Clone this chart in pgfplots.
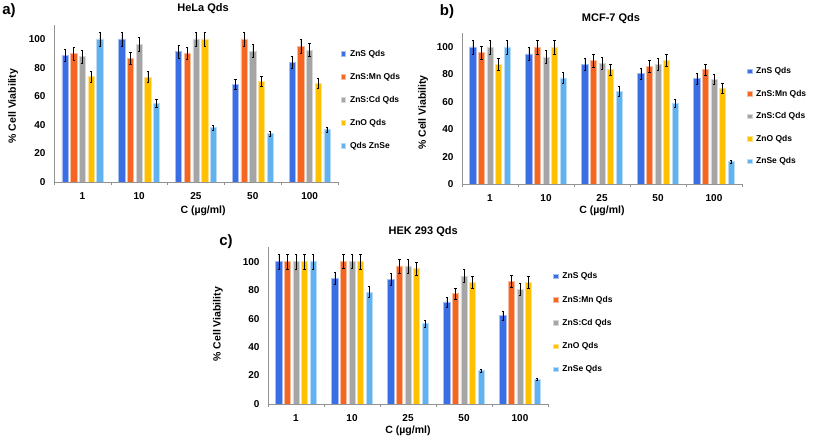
\documentclass[border=0pt]{standalone}
\usepackage{pgfplots}
\pgfplotsset{compat=1.18}
\usepackage{pgfplotstable}
\usepackage{fontspec}
\setmainfont{Liberation Sans}
\definecolor{cZnS}{RGB}{58,110,228}
\definecolor{cMn}{RGB}{245,102,34}
\definecolor{cCd}{RGB}{165,165,165}
\definecolor{cZnO}{RGB}{255,192,0}
\definecolor{cSe}{RGB}{99,178,240}

\pgfplotstableread{
x zns znsE mn mnE cd cdE zno znoE znse znseE
0 88.6 4.4 89.7 4.5 87.6 4.4 73.7 3.7 100 5.0
1 100 5.0 86.7 4.3 96.3 4.8 73.4 3.7 55.2 2.8
2 91.1 4.6 90.0 4.5 100 5.0 100 5.0 38.0 1.9
3 68.3 3.4 100 5.0 91.6 4.6 70.6 3.5 34.0 1.7
4 83.7 4.2 95.1 4.8 92.3 4.6 69.0 3.5 36.8 1.8
}\hela
\pgfplotstableread{
x zns znsE mn mnE cd cdE zno znoE znse znseE
0 100 5.0 96.1 4.8 100 5.0 87.3 4.4 100 5.0
1 94.9 4.7 100 5.0 92.7 4.6 100 5.0 77.4 3.9
2 87.1 4.4 90.0 4.5 88.3 4.4 83.5 4.2 67.6 3.4
3 80.5 4.0 85.9 4.3 87.3 4.4 90.3 4.5 59.1 3.0
4 76.9 3.8 83.5 4.2 76.6 3.8 70.0 3.5 16.3 0.8
}\mcf
\pgfplotstableread{
x zns znsE mn mnE cd cdE zno znoE znse znseE
0 100 5.0 100 5.0 100 5.0 100 5.0 100 5.0
1 88.3 4.4 100.5 5.0 100.5 5.0 100 5.0 78.7 3.9
2 87.6 4.4 97.0 4.9 97.0 4.9 95.1 4.8 56.4 2.8
3 71.7 3.6 77.5 3.9 89.9 4.5 85.5 4.3 23.4 1.2
4 62.1 3.1 86.2 4.3 80.6 4.0 85.5 4.3 17.3 0.9
}\hek

\pgfplotsset{
  every axis title shift=0pt,
  panel/.style={
    scale only axis, ybar, bar width=0.11,
    ymin=0, ymax=110, xmin=-0.5, xmax=4.5,
    axis x line*=bottom, axis y line*=left, tick pos=left,
    axis line style={draw=gray!85, line width=0.6pt},
    ytick={0,20,...,100}, xtick={0,...,4}, xticklabels={1,10,25,50,100},
    major tick length=0pt,
    extra x ticks={-0.5,0.5,...,4.5}, extra x tick labels={},
    extra x tick style={major tick length=3pt, tick align=outside, tick style={draw=gray!85, line width=0.5pt}},
    /pgf/number format/assume math mode=true,
    ticklabel style={font=\bfseries\fontsize{10}{10}\selectfont},
    yticklabel style={xshift=-5pt},
    xticklabel style={yshift=-7pt},
    label style={font=\bfseries\fontsize{10.5}{10.5}\selectfont},
    title style={font=\bfseries\fontsize{11}{11}\selectfont, anchor=center},
    xlabel={C (µg/ml)}, ylabel={\% Cell Viability},
    legend image code/.code={\fill[##1] (0pt,-2.3pt) rectangle (4.6pt,2.3pt);},
    legend cell align=left,
    legend style={draw=none, fill=none, inner sep=0pt, anchor=north west, column sep=3pt,
      nodes={inner sep=1pt, text height=7pt, text depth=2pt, font=\bfseries\fontsize{8.5}{8.5}\selectfont}},
  },
  eb/.style={error bars/.cd, y dir=both, y explicit,
    error bar style={black, line width=0.5pt},
    error mark options={rotate=90, black, mark size=1.1pt, line width=0.5pt}},
  s1/.style={fill=cZnS, draw=cZnS!45!white, line width=0.6pt, bar shift=-0.306},
  s2/.style={fill=cMn, draw=cMn!45!white, line width=0.6pt, bar shift=-0.153},
  s3/.style={fill=cCd, draw=cCd!45!white, line width=0.6pt, bar shift=0},
  s4/.style={fill=cZnO, draw=cZnO!45!white, line width=0.6pt, bar shift=0.153},
  s5/.style={fill=cSe, draw=cSe!45!white, line width=0.6pt, bar shift=0.306},
}

\begin{document}
\begin{tikzpicture}
\path[use as bounding box] (0pt,0pt) rectangle (817pt,441pt);

% a) HeLa
\begin{axis}[panel, at={(54pt,259pt)}, anchor=south west, width=284pt, height=157.3pt,
  title={HeLa Qds}, title style={at={(0.525,1.10)}},
  xlabel style={at={(axis description cs:0.525,-0.184)}, anchor=center},
  ylabel style={at={(axis description cs:-0.144,0.483)}, anchor=center},
  legend style={at={(1.0095,0.851)}, row sep=12pt}]
\addplot[s1, eb] table[x=x, y=zns, y error=znsE]{\hela};
\addplot[s2, eb] table[x=x, y=mn, y error=mnE]{\hela};
\addplot[s3, eb] table[x=x, y=cd, y error=cdE]{\hela};
\addplot[s4, eb] table[x=x, y=zno, y error=znoE]{\hela};
\addplot[s5, eb] table[x=x, y=znse, y error=znseE]{\hela};
\legend{ZnS Qds, ZnS:Mn Qds, ZnS:Cd Qds, ZnO Qds, Qds ZnSe}
\end{axis}

% b) MCF-7
\begin{axis}[panel, at={(462pt,257pt)}, anchor=south west, width=280pt, height=150.7pt,
  title={MCF-7 Qds}, title style={at={(0.532,1.10)}},
  xlabel style={at={(axis description cs:0.5,-0.177)}, anchor=center},
  ylabel style={at={(axis description cs:-0.139,0.474)}, anchor=center},
  legend style={at={(1.017,0.786)}, row sep=11.5pt}]
\addplot[s1, eb] table[x=x, y=zns, y error=znsE]{\mcf};
\addplot[s2, eb] table[x=x, y=mn, y error=mnE]{\mcf};
\addplot[s3, eb] table[x=x, y=cd, y error=cdE]{\mcf};
\addplot[s4, eb] table[x=x, y=zno, y error=znoE]{\mcf};
\addplot[s5, eb] table[x=x, y=znse, y error=znseE]{\mcf};
\legend{ZnS Qds, ZnS:Mn Qds, ZnS:Cd Qds, ZnO Qds, ZnSe Qds}
\end{axis}

% c) HEK 293
\begin{axis}[panel, at={(268pt,37pt)}, anchor=south west, width=280pt, height=156.5pt,
  title={HEK 293 Qds}, title style={at={(0.554,1.099)}},
  xlabel style={at={(axis description cs:0.5,-0.171)}, anchor=center},
  ylabel style={at={(axis description cs:-0.179,0.51)}, anchor=center},
  legend style={at={(1.018,0.853)}, row sep=12.3pt}]
\addplot[s1, eb] table[x=x, y=zns, y error=znsE]{\hek};
\addplot[s2, eb] table[x=x, y=mn, y error=mnE]{\hek};
\addplot[s3, eb] table[x=x, y=cd, y error=cdE]{\hek};
\addplot[s4, eb] table[x=x, y=zno, y error=znoE]{\hek};
\addplot[s5, eb] table[x=x, y=znse, y error=znseE]{\hek};
\legend{ZnS Qds, ZnS:Mn Qds, ZnS:Cd Qds, ZnO Qds, ZnSe Qds}
\end{axis}

\node[font=\bfseries\fontsize{15}{15}\selectfont] at (9pt,430pt) {a)};
\node[font=\bfseries\fontsize{15}{15}\selectfont] at (447pt,429pt) {b)};
\node[font=\bfseries\fontsize{15}{15}\selectfont] at (226pt,199pt) {c)};
\end{tikzpicture}
\end{document}
